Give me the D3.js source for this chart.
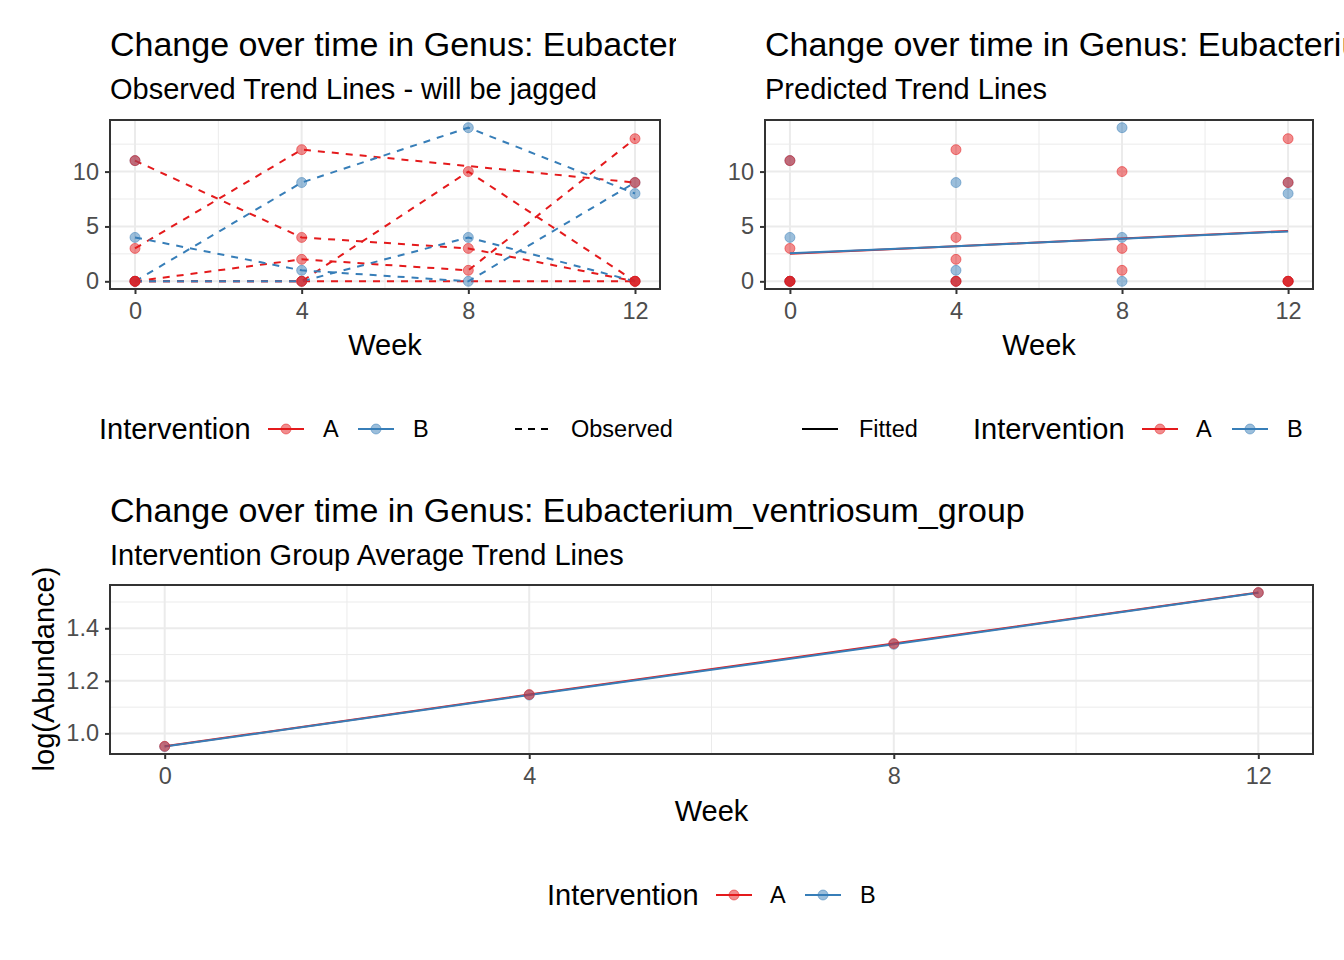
<!DOCTYPE html>
<html>
<head>
<meta charset="utf-8">
<script src="https://cdn.jsdelivr.net/npm/d3@7"></script>
<style>
  body { margin: 0; background: #fff; }
  svg { display: block; font-family: "Liberation Sans", Arial, sans-serif; }
</style>
</head>
<body>
<svg id="chart" width="1344" height="960"></svg>
<script>
// weeks sampled
const weeks = [0, 4, 8, 12];
const xTicks = [0, 4, 8, 12];

// observed abundance per subject (null = no sample that week)
const subjectsA = [
  [11, 4, 3, 0],
  [3, 12, null, 9],
  [0, 2, 1, 13],
  [0, 0, 10, 0],
  [0, 0, null, 0]
];
const subjectsB = [
  [4, 1, 0, 9],
  [0, 0, 4, 0],
  [0, 9, 14, 8],
  [11, null, null, null]
];

// predicted trend per intervention
const fittedA = [2.52, 3.2, 3.9, 4.58];
const fittedB = [2.55, 3.2, 3.87, 4.55];

// group average of log(abundance)
const avgA = [0.951, 1.148, 1.342, 1.536];
const avgB = [0.950, 1.146, 1.339, 1.535];

const topYTicks = [0, 5, 10];
const botYTicks = [1.0, 1.2, 1.4];

const colA = "#E41A1C", colB = "#377EB8";
const svg = d3.select("#chart");

// clip for the left column (title gets cut there)
svg.append("defs").append("clipPath").attr("id", "leftClip")
  .append("rect").attr("x", 0).attr("y", 0).attr("width", 676).attr("height", 470);

function toPoints(vals) {
  return weeks.map((w, i) => ({ week: w, value: vals[i] })).filter(d => d.value !== null);
}

// draw panel background, grid and axes
function panel(g, box, yDomain, yTicks, yMinor, yFmt) {
  const x = d3.scaleLinear().domain([-0.6, 12.6]).range([box.left, box.right]);
  const y = d3.scaleLinear().domain(yDomain).range([box.bottom, box.top]);

  const grid = g.append("g");
  [2, 6, 10].forEach(v => grid.append("line")
    .attr("x1", x(v)).attr("x2", x(v)).attr("y1", box.top).attr("y2", box.bottom)
    .attr("stroke", "#EBEBEB").attr("stroke-width", 1));
  yMinor.forEach(v => grid.append("line")
    .attr("x1", box.left).attr("x2", box.right).attr("y1", y(v)).attr("y2", y(v))
    .attr("stroke", "#EBEBEB").attr("stroke-width", 1));
  xTicks.forEach(v => grid.append("line")
    .attr("x1", x(v)).attr("x2", x(v)).attr("y1", box.top).attr("y2", box.bottom)
    .attr("stroke", "#EBEBEB").attr("stroke-width", 2));
  yTicks.forEach(v => grid.append("line")
    .attr("x1", box.left).attr("x2", box.right).attr("y1", y(v)).attr("y2", y(v))
    .attr("stroke", "#EBEBEB").attr("stroke-width", 2));

  // axes
  const xAxis = g.append("g").attr("transform", `translate(0,${box.bottom})`)
    .call(d3.axisBottom(x).tickValues(xTicks).tickSize(5).tickPadding(8).tickFormat(d3.format("d")));
  const yAxis = g.append("g").attr("transform", `translate(${box.left},0)`)
    .call(d3.axisLeft(y).tickValues(yTicks).tickSize(5).tickPadding(6).tickFormat(yFmt));
  [xAxis, yAxis].forEach(a => {
    a.select(".domain").remove();
    a.selectAll(".tick line").attr("stroke", "#333").attr("stroke-width", 2);
    a.selectAll(".tick text").attr("fill", "#4D4D4D").style("font-size", "23.5px")
      .style("font-family", "Liberation Sans, Arial, sans-serif");
  });

  return { x, y };
}

function border(g, box) {
  g.append("rect").attr("x", box.left).attr("y", box.top)
    .attr("width", box.right - box.left).attr("height", box.bottom - box.top)
    .attr("fill", "none").attr("stroke", "#333").attr("stroke-width", 2);
}

function titles(g, xLeft, yBase, title, subtitle) {
  g.append("text").attr("x", xLeft).attr("y", yBase).text(title)
    .style("font-size", "34px").attr("fill", "#000");
  g.append("text").attr("x", xLeft).attr("y", yBase + 43).text(subtitle)
    .style("font-size", "29px").attr("fill", "#000");
}

function weekLabel(g, box, yBase) {
  g.append("text").attr("x", (box.left + box.right) / 2).attr("y", yBase)
    .attr("text-anchor", "middle").style("font-size", "29px").text("Week");
}

function drawPoints(g, sc, series, color) {
  series.forEach(vals => {
    g.selectAll(null).data(toPoints(vals)).join("circle")
      .attr("cx", d => sc.x(d.week)).attr("cy", d => sc.y(d.value)).attr("r", 5)
      .attr("fill", color).attr("fill-opacity", 0.5)
      .attr("stroke", color).attr("stroke-opacity", 0.5).attr("stroke-width", 1);
  });
}

// legend pieces
function legendKey(g, cx, cy, color, withPoint, dashed) {
  g.append("line").attr("x1", cx - 18).attr("x2", cx + 18).attr("y1", cy).attr("y2", cy)
    .attr("stroke", color).attr("stroke-width", 2)
    .attr("stroke-dasharray", dashed ? "7,6" : null);
  if (withPoint) {
    g.append("circle").attr("cx", cx).attr("cy", cy).attr("r", 5)
      .attr("fill", color).attr("fill-opacity", 0.5)
      .attr("stroke", color).attr("stroke-opacity", 0.5);
  }
}
function legendText(g, x, cy, txt, big) {
  g.append("text").attr("x", x).attr("y", cy).attr("dy", "0.36em")
    .style("font-size", big ? "29px" : "23.5px").text(txt);
}

const topY = [-0.7, 14.7];
const lineOf = sc => d3.line().x(d => sc.x(d.week)).y(d => sc.y(d.value));

// ---------- top-left: observed ----------
const left = svg.append("g").attr("clip-path", "url(#leftClip)");
const boxL = { left: 110, right: 660, top: 120, bottom: 289 };
titles(left, 110, 56, "Change over time in Genus: Eubacterium_ventriosum_group",
  "Observed Trend Lines - will be jagged");
const scL = panel(left, boxL, topY, topYTicks, [2.5, 7.5, 12.5], d3.format("d"));
[[subjectsA, colA], [subjectsB, colB]].forEach(([series, color]) => {
  series.forEach(vals => {
    left.append("path").datum(toPoints(vals))
      .attr("fill", "none").attr("stroke", color).attr("stroke-width", 2)
      .attr("stroke-dasharray", "7,7").attr("d", lineOf(scL));
  });
});
drawPoints(left, scL, subjectsB, colB);
drawPoints(left, scL, subjectsA, colA);
border(left, boxL);
weekLabel(left, boxL, 355);

legendText(left, 99, 429, "Intervention", true);
legendKey(left, 286, 429, colA, true, false);
legendText(left, 323, 429, "A");
legendKey(left, 376, 429, colB, true, false);
legendText(left, 413, 429, "B");
legendKey(left, 533, 429, "#000", false, true);
legendText(left, 571, 429, "Observed");

// ---------- top-right: predicted ----------
const right = svg.append("g");
const boxR = { left: 765, right: 1313, top: 120, bottom: 289 };
titles(right, 765, 56, "Change over time in Genus: Eubacterium_ventriosum_group",
  "Predicted Trend Lines");
const scR = panel(right, boxR, topY, topYTicks, [2.5, 7.5, 12.5], d3.format("d"));
drawPoints(right, scR, subjectsB, colB);
drawPoints(right, scR, subjectsA, colA);
[[fittedA, colA], [fittedB, colB]].forEach(([vals, color]) => {
  right.append("path").datum(toPoints(vals))
    .attr("fill", "none").attr("stroke", color).attr("stroke-width", 2)
    .attr("d", lineOf(scR));
});
border(right, boxR);
weekLabel(right, boxR, 355);

legendKey(right, 820, 429, "#000", false, false);
legendText(right, 859, 429, "Fitted");
legendText(right, 973, 429, "Intervention", true);
legendKey(right, 1160, 429, colA, true, false);
legendText(right, 1196, 429, "A");
legendKey(right, 1250, 429, colB, true, false);
legendText(right, 1287, 429, "B");

// ---------- bottom: group averages ----------
const bot = svg.append("g");
const boxB = { left: 110, right: 1313, top: 585, bottom: 754 };
titles(bot, 110, 522, "Change over time in Genus: Eubacterium_ventriosum_group",
  "Intervention Group Average Trend Lines");
const scB = panel(bot, boxB, [0.9218, 1.5647], botYTicks, [1.1, 1.3, 1.5], d3.format(".1f"));
[[avgA, colA], [avgB, colB]].forEach(([vals, color]) => {
  bot.append("path").datum(toPoints(vals))
    .attr("fill", "none").attr("stroke", color).attr("stroke-width", 2)
    .attr("d", lineOf(scB));
});
drawPoints(bot, scB, [avgB], colB);
drawPoints(bot, scB, [avgA], colA);
border(bot, boxB);
weekLabel(bot, boxB, 821);

bot.append("text").attr("transform", "translate(44,669) rotate(-90)")
  .attr("text-anchor", "middle").attr("dy", "0.36em")
  .style("font-size", "29px").text("log(Abundance)");

legendText(bot, 547, 895, "Intervention", true);
legendKey(bot, 734, 895, colA, true, false);
legendText(bot, 770, 895, "A");
legendKey(bot, 823, 895, colB, true, false);
legendText(bot, 860, 895, "B");
</script>
</body>
</html>
